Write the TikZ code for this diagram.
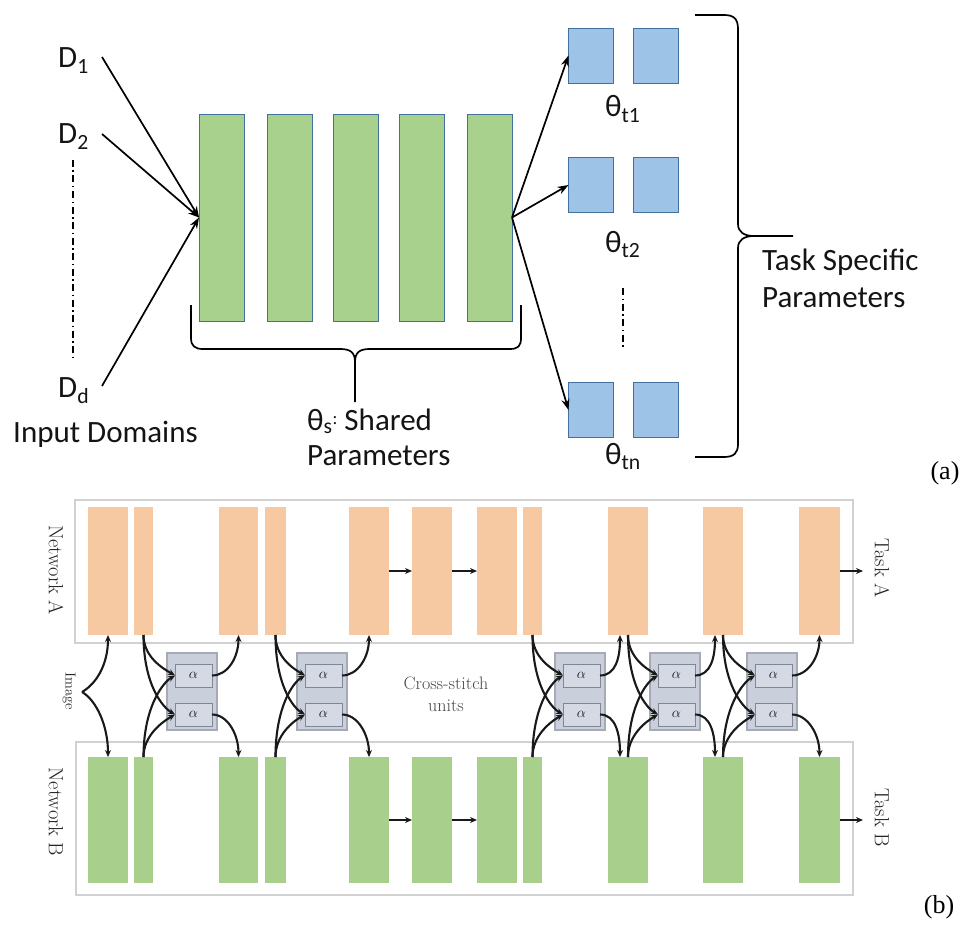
\documentclass[tikz,border=0pt]{standalone}
\usepackage{fontspec}
\newfontfamily\calib{Carlito}
\newfontfamily\timesf{Liberation Serif}
\usetikzlibrary{arrows.meta,calc}

\definecolor{shgreen}{RGB}{169,209,142}
\definecolor{shblue}{RGB}{157,195,230}
\definecolor{shedge}{RGB}{65,113,156}
\definecolor{netorange}{RGB}{246,201,162}
\definecolor{netgreen}{RGB}{168,208,140}
\definecolor{unitfill}{RGB}{201,207,219}
\definecolor{unitedge}{RGB}{165,170,180}
\definecolor{alphafill}{RGB}{212,217,228}
\definecolor{alphaedge}{RGB}{128,134,150}
\definecolor{inkb}{RGB}{25,25,25}

\tikzset{
  atext/.style={font={\calib\fontsize{31}{37}\selectfont}, inner sep=0pt, text=black!92},
  sharedbar/.style={draw=shedge, line width=0.8pt, fill=shgreen, minimum width=45pt, minimum height=207pt, inner sep=0pt, outer sep=0pt},
  taskbox/.style={draw=shedge, line width=0.8pt, fill=shblue, minimum width=45pt, minimum height=55pt, inner sep=0pt, outer sep=0pt},
  aarrow/.style={line width=1.7pt, -{Stealth[length=11pt,width=8pt]}},
  bracepath/.style={line width=1.7pt},
  dotdash/.style={line width=1.5pt, dash pattern=on 7pt off 3.5pt on 1.5pt off 3.5pt},
  netframe/.style={draw=black!18, line width=1.3pt},
  abar/.style={fill=netorange, inner sep=0pt, outer sep=0pt},
  bbar/.style={fill=netgreen, inner sep=0pt, outer sep=0pt},
  unitbox/.style={draw=unitedge, line width=1.1pt, fill=unitfill, minimum width=50pt, minimum height=77pt, inner sep=0pt, outer sep=0pt},
  alphabox/.style={draw=alphaedge, line width=1pt, fill=alphafill, minimum width=37pt, minimum height=23pt, inner sep=0pt, outer sep=0pt, text=inkb, font=\fontsize{15}{17}\selectfont},
  cs/.style={line width=2.1pt, draw=inkb, -{Stealth[length=7pt,width=6pt]}},
  flow/.style={line width=2.1pt, draw=inkb, -{Stealth[length=7pt,width=6pt]}},
  rlabel/.style={rotate=-90, text=black!85, font=\fontsize{20.5}{24}\selectfont, inner sep=0pt},
  panel/.style={font={\timesf\fontsize{26}{30}\selectfont}, inner sep=0pt}
}

\begin{document}
\begin{tikzpicture}[x=1pt,y=-1pt]
\useasboundingbox (0,0) rectangle (963,928);
\fill[white] (0,0) rectangle (963,928);

% ---------- (a) hard parameter sharing ----------
\foreach \i/\x in {1/199,2/267,3/333,4/399,5/467}
  \node[sharedbar] (g\i) at ({\x+22.5},217.5) {};

\foreach \r/\y in {1/55.5,2/185,3/410} {
  \node[taskbox] (t\r a) at (591,\y) {};
  \node[taskbox] (t\r b) at (656,\y) {};
}

\node[atext, anchor=base west] (d1) at (58,68) {D\textsubscript{1}};
\node[atext, anchor=base west] (d2) at (58,144) {D\textsubscript{2}};
\node[atext, anchor=base west] (dd) at (58,397) {D\textsubscript{d}};
\node[atext, anchor=base west] (indom) at (13,442) {Input Domains};

\coordinate (d1s) at (102,57);
\coordinate (d2s) at (102,134);
\coordinate (dds) at (102,386);
\draw[aarrow] (d1s) -- (g1.west);
\draw[aarrow] (d2s) -- (g1.west);
\draw[aarrow] (dds) -- (g1.west);

\coordinate (dv1) at (73,160);
\coordinate (dv2) at (73,360);
\draw[dotdash] (dv1) -- (dv2);

\draw[aarrow] (g5.east) -- (t1a.west);
\draw[aarrow] (g5.east) -- (t2a.west);
\draw[aarrow] (g5.east) -- (t3a.west);

\node[atext, anchor=base west] (th1) at (605,117) {θ\textsubscript{t1}};
\node[atext, anchor=base west] (th2) at (605,252) {θ\textsubscript{t2}};
\node[atext, anchor=base west] (thn) at (605,464) {θ\textsubscript{tn}};

\coordinate (tv1) at (623,288);
\coordinate (tv2) at (623,350);
\draw[dotdash] (tv1) -- (tv2);

% brace under the shared layers
\draw[bracepath] (191,305) -- (191,338) .. controls (191,346) and (195,349) .. (203,349)
  -- (340,349) .. controls (350,349) and (355,352) .. (355,362) -- (355,402);
\draw[bracepath] (355,362) .. controls (355,352) and (360,349) .. (370,349)
  -- (510,349) .. controls (518,349) and (521,346) .. (521,338) -- (521,305);

\node[atext, anchor=base west] (shared) at (307,430) {θ\textsubscript{s}\raisebox{6pt}{\fontsize{18}{20}\selectfont:} Shared};
\node[atext, anchor=base west] (sharedp) at (307,465) {Parameters};

% brace around the task heads
\draw[bracepath] (695,15) -- (724,15) .. controls (734,15) and (738,19) .. (738,29)
  -- (738,224) .. controls (738,232) and (744,236) .. (754,236) -- (793,236);
\draw[bracepath] (754,236) .. controls (744,236) and (738,240) .. (738,248)
  -- (738,444) .. controls (738,453) and (734,457) .. (724,457) -- (695,457);

\node[atext, anchor=base west] (tsp) at (762,270) {Task Specific};
\node[atext, anchor=base west] (tspp) at (762,307) {Parameters};

\node[panel] (pa) at (945,473) {(a)};

% ---------- (b) cross-stitch networks ----------
\node[netframe, draw, minimum width=778pt, minimum height=143pt, inner sep=0pt] (fa) at (464,571.5) {};
\node[netframe, draw, minimum width=777pt, minimum height=153pt, inner sep=0pt] (fb) at (464.5,818.5) {};

\foreach \i/\l/\r in {1/88/128,2/134/153,3/219/258,4/265/286,5/349/389,6/412/452,7/477/517,8/523/542,9/608/648,10/703/743,11/799/840} {
  \node[abar, minimum width={(\r-\l)*1pt}, minimum height=128pt] (a\i) at ({(\l+\r)/2},571) {};
  \node[bbar, minimum width={(\r-\l)*1pt}, minimum height=126pt] (b\i) at ({(\l+\r)/2},820) {};
}

\draw[flow] (a5.east) -- (a6.west);
\draw[flow] (a6.east) -- (a7.west);
\draw[flow] (b5.east) -- (b6.west);
\draw[flow] (b6.east) -- (b7.west);

\node[rlabel, anchor=west] (taska) at (882,538) {Task A};
\node[rlabel, anchor=west] (taskb) at (882,788) {Task B};
\coordinate (outa) at (863,571);
\coordinate (outb) at (863,820);
\draw[flow] (a11.east) -- (outa);
\draw[flow] (b11.east) -- (outb);

\node[rlabel] (neta) at (56,570) {Network A};
\node[rlabel] (netb) at (56,812) {Network B};

% image input
\node[rlabel, font=\fontsize{14.5}{16}\selectfont] (imglbl) at (69,691) {Image};
\coordinate (img) at (82,692);
\draw[flow] (img) .. controls (96,684) and (108,665) .. (a1.south);
\draw[flow] (img) .. controls (96,700) and (108,725) .. (b1.north);

% cross-stitch units
\foreach \k/\x in {1/167,2/297,3/555,4/650,5/747} {
  \node[unitbox] (u\k) at ({\x+25},691.5) {};
  \node[alphabox] (ut\k) at ({\x+26.5},675.5) {$\alpha$};
  \node[alphabox] (ub\k) at ({\x+26.5},714.5) {$\alpha$};
}

\foreach \k/\s/\t/\o in {1/2/3/0,2/4/5/0,3/8/9/-8,4/9/10/-8,5/10/11/0} {
  \draw[cs] (a\s.south) .. controls +(0,22) and +(-12,-7) .. (ut\k.west);
  \draw[cs] (a\s.south) .. controls +(0,50) and +(-12,-7) .. (ub\k.west);
  \draw[cs] (b\s.north) .. controls +(0,-22) and +(-12,7) .. (ub\k.west);
  \draw[cs] (b\s.north) .. controls +(0,-50) and +(-12,7) .. (ut\k.west);
  \draw[cs] (ut\k.east) .. controls +(16,0) and +(0,22) .. ($(a\t.south)+(\o,0)$);
  \draw[cs] (ub\k.east) .. controls +(16,0) and +(0,-22) .. ($(b\t.north)+(\o,0)$);
}

\node[font=\fontsize{18}{22}\selectfont, text=black!72, align=center, inner sep=0pt] (cslbl) at (446,694) {Cross-stitch\\units};

\node[panel] (pb) at (939,907) {(b)};
\end{tikzpicture}
\end{document}
